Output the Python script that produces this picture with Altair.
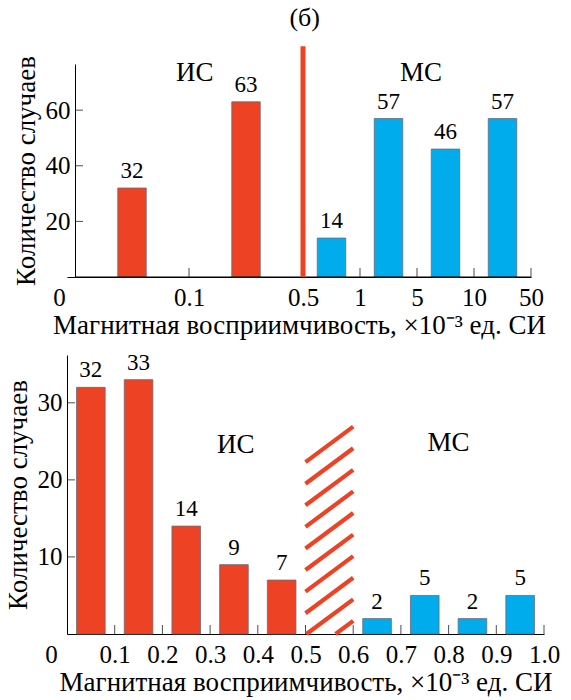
import altair as alt
import pandas as pd

SERIF = "Liberation Serif"
RED = "#EE4224"
BLUE = "#00ACEC"
EDGE = "#6A6A78"

X_TITLE = "Магнитная восприимчивость, ×10⁻³ ед. СИ"
Y_TITLE = "Количество случаев"

# ---------- upper histogram (uneven bins drawn on equal-step axis) ----------
top_edge_labels = ["0", "0.1", "0.5", "1", "5", "10", "50"]
top_edge_pos = [0, 2, 4, 5, 6, 7, 8]
top_counts = [32, 63, 14, 57, 46, 57]
top_groups = ["ИС", "ИС", "МС", "МС", "МС", "МС"]
top_yticks = [20, 40, 60]
top_boundary = 4          # position of the 0.5 boundary
top_group_text = ["ИС", "МС"]
top_group_x = [2.1, 6.07]
top_group_y = [73.5, 73.5]

# ---------- lower histogram (0.1-wide bins) ----------
low_edges = [0.0, 0.1, 0.2, 0.3, 0.4, 0.5, 0.6, 0.7, 0.8, 0.9, 1.0]
low_bin_lo = [0.0, 0.1, 0.2, 0.3, 0.4, 0.6, 0.7, 0.8, 0.9]
low_counts = [32, 33, 14, 9, 7, 2, 5, 2, 5]
low_groups = ["ИС", "ИС", "ИС", "ИС", "ИС", "МС", "МС", "МС", "МС"]
low_yticks = [10, 20, 30]
low_gap = (0.5, 0.6)       # hatched transition zone
low_group_text = ["ИС", "МС"]
low_group_x = [0.354, 0.80]
low_group_y = [24.5, 24.8]

color = alt.Color("group:N", scale=alt.Scale(domain=["ИС", "МС"], range=[RED, BLUE]), legend=None)
zero_shift = {"condition": {"test": "datum.value === 0", "value": -16}, "value": 0}


def x_axis(values, expr):
    return alt.Axis(values=values, labelExpr=expr, title=X_TITLE, ticks=False, grid=False,
                    labelFlush=False, labelOverlap=False, labelFontSize=25, titleFontSize=27,
                    labelPadding=8, titlePadding=2, labelOffset=zero_shift)


def y_axis(values, offset=0):
    return alt.Axis(values=values, title=Y_TITLE, ticks=False, grid=False, labelFontSize=25,
                    titleFontSize=27, labelPadding=5, titlePadding=5, offset=offset)


def inner_ticks(xs, ys, orient, offset):
    df = pd.DataFrame({"x": xs, "y": ys})
    kw = {"yOffset": -offset} if orient == "vertical" else {"xOffset": offset}
    return alt.Chart(df).mark_tick(orient=orient, size=2 * offset, thickness=1, color="black",
                                   **kw).encode(x="x:Q", y="y:Q")


# ===================== upper panel =====================
tw, th = 464, 213
t_xdom = [-8 / 57, 8]
t_ydom = [0, 76.6]

top_df = pd.DataFrame({
    "lo": top_edge_pos[:-1], "hi": top_edge_pos[1:],
    "count": top_counts, "group": top_groups,
})
top_df["mid"] = (top_df["lo"] + top_df["hi"]) / 2
top_df["x"] = top_df["mid"] - 0.25
top_df["x2"] = top_df["mid"] + 0.25
top_df["base"] = 0

label_expr_top = " : ".join(
    f"datum.value == {p} ? '{t}'" for p, t in zip(top_edge_pos, top_edge_labels)
) + " : ''"

txs = alt.Scale(domain=t_xdom, nice=False, zero=False)
tys = alt.Scale(domain=t_ydom, nice=False)

t_bars = alt.Chart(top_df).mark_bar(stroke=EDGE, strokeWidth=0.8).encode(
    x=alt.X("x:Q", scale=txs, axis=x_axis(top_edge_pos, label_expr_top)),
    x2="x2:Q",
    y=alt.Y("count:Q", scale=tys, axis=y_axis(top_yticks, offset=-8)),
    y2="base:Q",
    color=color,
)
t_vals = alt.Chart(top_df).mark_text(baseline="bottom", dy=-5, fontSize=23, font=SERIF, color="black").encode(
    x="mid:Q", y="count:Q", text="count:Q")

t_axis_df = pd.DataFrame({"x": [top_edge_pos[0]], "x2": [top_edge_pos[-1]], "y": [0]})
t_base = alt.Chart(t_axis_df).mark_rule(color="black", strokeWidth=1).encode(x="x:Q", x2="x2:Q", y="y:Q")
t_xt = inner_ticks(top_edge_pos[1:], [0] * (len(top_edge_pos) - 1), "vertical", 4.5)
t_yt = inner_ticks([0] * len(top_yticks), top_yticks, "horizontal", 4)

t_div_df = pd.DataFrame({"x": [top_boundary], "y": [0], "y2": [83]})
t_div = alt.Chart(t_div_df).mark_rule(color=RED, strokeWidth=5).encode(x="x:Q", y="y:Q", y2="y2:Q")

t_grp_df = pd.DataFrame({"text": top_group_text, "x": top_group_x, "y": top_group_y})
t_grp = alt.Chart(t_grp_df).mark_text(fontSize=27, font=SERIF, color="black").encode(
    x="x:Q", y="y:Q", text="text:N")

t_tag_df = pd.DataFrame({"text": ["(б)"], "x": [4.03], "y": [93]})
t_tag = alt.Chart(t_tag_df).mark_text(fontSize=26, font=SERIF, color="black").encode(
    x="x:Q", y="y:Q", text="text:N")

top = alt.layer(t_bars, t_vals, t_base, t_xt, t_yt, t_div, t_grp, t_tag).properties(width=tw, height=th)

# ===================== lower panel =====================
bw, bh = 477, 279
b_xdom = [0, 1.0]
b_ydom = [0, 36.2]

low_df = pd.DataFrame({"lo": low_bin_lo, "count": low_counts, "group": low_groups})
low_df["mid"] = low_df["lo"] + 0.05
low_df["x"] = low_df["mid"] - 0.03
low_df["x2"] = low_df["mid"] + 0.03
low_df["base"] = 0

label_expr_low = "datum.value == 0 ? '0' : format(datum.value, '.1f')"

bxs = alt.Scale(domain=b_xdom, nice=False, zero=False)
bys = alt.Scale(domain=b_ydom, nice=False)

b_bars = alt.Chart(low_df).mark_bar(stroke=EDGE, strokeWidth=0.8).encode(
    x=alt.X("x:Q", scale=bxs, axis=x_axis(low_edges, label_expr_low)),
    x2="x2:Q",
    y=alt.Y("count:Q", scale=bys, axis=y_axis(low_yticks)),
    y2="base:Q",
    color=color,
)
b_vals = alt.Chart(low_df).mark_text(baseline="bottom", dy=-5, fontSize=23, font=SERIF, color="black").encode(
    x="mid:Q", y="count:Q", text="count:Q")

b_xt = inner_ticks(low_edges[1:], [0] * (len(low_edges) - 1), "vertical", 4.5)
b_yt = inner_ticks([0] * len(low_yticks), low_yticks, "horizontal", 4)

# diagonal hatch across the transition zone, cut at the x axis
hatch_rows = []
rise, step, first = 4.6, 2.8, 22.3
for i in range(10):
    y_lo = first - i * step
    y_hi = y_lo + rise
    x_lo = low_gap[0]
    if y_lo < 0:
        x_lo = low_gap[0] + (low_gap[1] - low_gap[0]) * (-y_lo / rise)
        y_lo = 0
    hatch_rows.append({"x": x_lo, "y": y_lo, "x2": low_gap[1], "y2": y_hi})
hatch_df = pd.DataFrame(hatch_rows)
b_hatch = alt.Chart(hatch_df).mark_rule(color=RED, strokeWidth=4.2, strokeCap="butt").encode(
    x="x:Q", y="y:Q", x2="x2:Q", y2="y2:Q")

b_grp_df = pd.DataFrame({"text": low_group_text, "x": low_group_x, "y": low_group_y})
b_grp = alt.Chart(b_grp_df).mark_text(fontSize=27, font=SERIF, color="black").encode(
    x="x:Q", y="y:Q", text="text:N")

bottom = alt.layer(b_bars, b_vals, b_xt, b_yt, b_hatch, b_grp).properties(width=bw, height=bh)

chart = alt.vconcat(top, bottom, spacing=13).properties(
    padding={"left": 4, "top": 5, "right": 5, "bottom": 5}
).configure_axis(
    labelFont=SERIF, titleFont=SERIF, labelColor="black", titleColor="black",
    domainColor="black", domainWidth=1, titleFontWeight="normal",
).configure_view(stroke=None).configure_concat(spacing=13)

chart.save("out.html", embed_options={"renderer": "svg", "actions": False})
